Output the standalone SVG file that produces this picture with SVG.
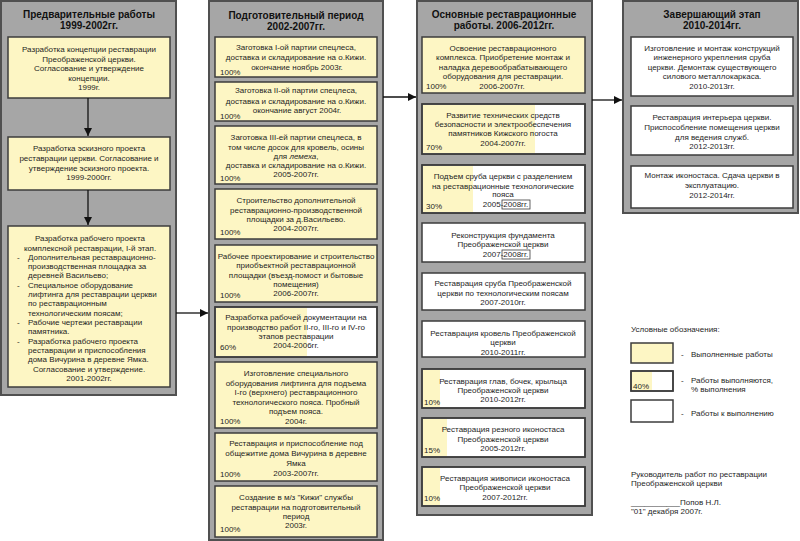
<svg xmlns="http://www.w3.org/2000/svg" width="800" height="541" viewBox="0 0 800 541">
<defs>
<style>
.panel{fill:#a6a6a6;stroke:#505050;stroke-width:2}
.done{fill:#fdf6c4;stroke:#3c3c3c;stroke-width:1.5}
.todo{fill:#ffffff;stroke:#3c3c3c;stroke-width:1.5}
.fill{fill:#fdf6c4;stroke:none}
.frame{fill:none;stroke:#3c3c3c;stroke-width:1.5}
.small{fill:none;stroke:#3c3c3c;stroke-width:0.8}
text{font-family:"Liberation Sans",Arial,sans-serif;font-size:8px;fill:#1e1e1e;text-anchor:middle}
.l{text-anchor:start}
.h{font-weight:bold;font-size:10px;fill:#111}
.conn{stroke:#111;stroke-width:1.3;fill:none;marker-end:url(#arr)}
</style>
<marker id="arr" viewBox="0 0 10 10" refX="10" refY="5" markerWidth="9" markerHeight="8" markerUnits="userSpaceOnUse" orient="auto">
<path d="M0,0 L10,5 L0,10 z" fill="#111"/>
</marker>
</defs>

<!-- Panels -->
<g id="panel1">
<rect class="panel" x="1" y="1" width="175" height="394"/>
<text class="h" x="89" y="18">Предварительные работы</text>
<text class="h" x="89" y="29">1999-2002гг.</text>
</g>
<g id="panel2">
<rect class="panel" x="209" y="1" width="174" height="539"/>
<text class="h" x="296" y="19">Подготовительный период</text>
<text class="h" x="296" y="30">2002-2007гг.</text>
</g>
<g id="panel3">
<rect class="panel" x="417" y="1" width="175" height="514"/>
<text class="h" x="504" y="18">Основные реставрационные</text>
<text class="h" x="504" y="29">работы. 2006-2012гг.</text>
</g>
<g id="panel4">
<rect class="panel" x="623" y="1" width="175" height="212"/>
<text class="h" x="712" y="18">Завершающий этап</text>
<text class="h" x="712" y="29">2010-2014гг.</text>
</g>

<!-- Column 1 -->
<g id="c1b1">
<rect class="done" x="8" y="37" width="162" height="61"/>
<text x="89" y="52">Разработка концепции реставрации</text>
<text x="89" y="61.5">Преображенской церкви.</text>
<text x="89" y="71">Согласование и утверждение</text>
<text x="89" y="80.5">концепции.</text>
<text x="89" y="90">1999г.</text>
</g>
<g id="c1b2">
<rect class="done" x="8" y="137" width="162" height="53"/>
<text x="89" y="151">Разработка эскизного проекта</text>
<text x="89" y="161">реставрации церкви. Согласование и</text>
<text x="89" y="171">утверждение  эскизного проекта.</text>
<text x="89" y="180">1999-2000гг.</text>
</g>
<g id="c1b3">
<rect class="done" x="8" y="226" width="162" height="161"/>
<text x="90" y="241">Разработка рабочего проекта</text>
<text x="90" y="251">комплексной реставрации, I-й этап.</text>
<text class="l" x="17" y="260">-</text><text class="l" x="28" y="260">Дополнительная реставрационно-</text>
<text class="l" x="28" y="269">производственная площадка за</text>
<text class="l" x="28" y="278">деревней Васильево;</text>
<text class="l" x="17" y="288">-</text><text class="l" x="28" y="288">Специальное оборудование</text>
<text class="l" x="28" y="297">лифтинга для реставрации церкви</text>
<text class="l" x="28" y="306">по реставрационным</text>
<text class="l" x="28" y="316">технологическим поясам;</text>
<text class="l" x="17" y="325">-</text><text class="l" x="28" y="325">Рабочие чертежи реставрации</text>
<text class="l" x="28" y="334">памятника.</text>
<text class="l" x="17" y="344">-</text><text class="l" x="28" y="344">Разработка рабочего проекта</text>
<text class="l" x="28" y="353">реставрации и приспособления</text>
<text class="l" x="28" y="362">дома Вичурина в деревне Ямка.</text>
<text x="89" y="372">Согласование и утверждение.</text>
<text x="89" y="381">2001-2002гг.</text>
</g>

<!-- Column 2 -->
<g id="c2b1">
<rect class="done" x="215" y="37" width="162" height="40"/>
<text x="296" y="50">Заготовка I-ой партии спецлеса,</text>
<text x="296" y="60">доставка и складирование на о.Кижи.</text>
<text x="297" y="70">окончание ноябрь 2003г.</text>
<text class="l" x="220" y="75">100%</text>
</g>
<g id="c2b2">
<rect class="done" x="215" y="82" width="162" height="39"/>
<text x="296" y="93">Заготовка II-ой партии спецлеса,</text>
<text x="296" y="104">доставка и складирование на о.Кижи.</text>
<text x="297" y="113">окончание август 2004г.</text>
<text class="l" x="220" y="119">100%</text>
</g>
<g id="c2b3">
<rect class="done" x="215" y="126" width="162" height="58"/>
<text x="296" y="140">Заготовка III-ей партии спецлеса, в</text>
<text x="296" y="150">том числе досок для кровель, осины</text>
<text x="296" y="159">для <tspan font-style="italic">лемеха</tspan>,</text>
<text x="296" y="168">доставка и складирование на о.Кижи.</text>
<text x="296" y="177">2005-2007гг.</text>
<text class="l" x="220" y="181">100%</text>
</g>
<g id="c2b4">
<rect class="done" x="215" y="189" width="162" height="50"/>
<text x="296" y="203">Строительство дополнительной</text>
<text x="296" y="213">реставрационно-производственной</text>
<text x="296" y="222">площадки за д.Васильево.</text>
<text x="296" y="231">2004-2007гг.</text>
<text class="l" x="220" y="235">100%</text>
</g>
<g id="c2b5">
<rect class="done" x="215" y="245" width="162" height="57"/>
<text x="296" y="259">Рабочее проектирование и строительство</text>
<text x="296" y="268">приобъектной реставрационной</text>
<text x="296" y="278">площадки (въезд-помост и бытовые</text>
<text x="296" y="287">помещения)</text>
<text x="296" y="296">2006-2007гг.</text>
<text class="l" x="220" y="298">100%</text>
</g>
<g id="c2b6">
<rect class="todo" x="215" y="307" width="162" height="50"/>
<rect class="fill" x="216" y="308" width="91" height="48"/>
<rect class="frame" x="215" y="307" width="162" height="50"/>
<text x="296" y="320">Разработка рабочей документации на</text>
<text x="296" y="330">производство работ II-го, III-го и IV-го</text>
<text x="296" y="339">этапов реставрации</text>
<text x="296" y="348">2004-2006гг.</text>
<text class="l" x="220" y="350">60%</text>
</g>
<g id="c2b7">
<rect class="done" x="215" y="362" width="162" height="66"/>
<text x="296" y="376">Изготовление специального</text>
<text x="296" y="386">оборудования лифтинга для подъема</text>
<text x="296" y="395">I-го (верхнего) реставрационного</text>
<text x="296" y="405">технологического пояса. Пробный</text>
<text x="296" y="414">подъем пояса.</text>
<text x="296" y="424">2004г.</text>
<text class="l" x="220" y="424">100%</text>
</g>
<g id="c2b8">
<rect class="done" x="215" y="433" width="162" height="48"/>
<text x="296" y="446">Реставрация и приспособление под</text>
<text x="296" y="456">общежитие дома Вичурина в деревне</text>
<text x="296" y="466">Ямка</text>
<text x="296" y="476">2003-2007гг.</text>
<text class="l" x="220" y="477">100%</text>
</g>
<g id="c2b9">
<rect class="done" x="215" y="486" width="162" height="51"/>
<text x="296" y="500">Создание в м/з "Кижи" службы</text>
<text x="296" y="510">реставрации на подготовительный</text>
<text x="296" y="519">период</text>
<text x="296" y="528">2003г.</text>
<text class="l" x="220" y="532">100%</text>
</g>

<!-- Column 3 -->
<g id="c3b1">
<rect class="done" x="422" y="37" width="163" height="56"/>
<text x="503" y="51">Освоение реставрационного</text>
<text x="503" y="60">комплекса. Приобретение монтаж и</text>
<text x="503" y="70">наладка деревообрабатывающего</text>
<text x="503" y="79">оборудования для реставрации.</text>
<text x="502" y="89">2006-2007гг.</text>
<text class="l" x="426" y="89">100%</text>
</g>
<g id="c3b2">
<rect class="todo" x="422" y="104" width="163" height="50"/>
<rect class="fill" x="423" y="105" width="112" height="48"/>
<rect class="frame" x="422" y="104" width="163" height="50"/>
<text x="503" y="118">Развитие технических средств</text>
<text x="503" y="127">безопасности и электрообеспечения</text>
<text x="503" y="136">памятников Кижского погоста</text>
<text x="503" y="146">2004-2007гг.</text>
<text class="l" x="426" y="150">70%</text>
</g>
<g id="c3b3">
<rect class="todo" x="422" y="165" width="163" height="48"/>
<rect class="fill" x="423" y="166" width="50" height="46"/>
<rect class="frame" x="422" y="165" width="163" height="48"/>
<text x="503" y="179">Подъем сруба церкви с разделением</text>
<text x="503" y="189">на реставрационные технологические</text>
<text x="503" y="197">пояса</text>
<text x="505.5" y="207">2005-2008гг.</text>
<rect class="small" x="502" y="200" width="28" height="9"/>
<text class="l" x="426" y="209">30%</text>
</g>
<g id="c3b4">
<rect class="todo" x="422" y="223" width="163" height="39"/>
<text x="503" y="238">Реконструкция фундамента</text>
<text x="503" y="247">Преображенской церкви</text>
<text x="505.5" y="257">2007-2008гг.</text>
<rect class="small" x="502" y="250" width="28" height="9"/>
</g>
<g id="c3b5">
<rect class="todo" x="422" y="273" width="163" height="37"/>
<text x="503" y="286">Реставрация сруба Преображенской</text>
<text x="503" y="296">церкви по технологическим поясам</text>
<text x="503" y="305">2007-2010гг.</text>
</g>
<g id="c3b6">
<rect class="todo" x="422" y="321" width="163" height="36"/>
<text x="503" y="336">Реставрация кровель Преображенской</text>
<text x="503" y="345">церкви</text>
<text x="503" y="355">2010-2011гг.</text>
</g>
<g id="c3b7">
<rect class="todo" x="422" y="369" width="163" height="39"/>
<rect class="fill" x="423" y="370" width="17" height="37"/>
<rect class="frame" x="422" y="369" width="163" height="39"/>
<text x="503" y="384">Реставрация глав, бочек, крыльца</text>
<text x="503" y="393">Преображенской церкви</text>
<text x="503" y="402">2010-2012гг.</text>
<text class="l" x="424" y="405">10%</text>
</g>
<g id="c3b8">
<rect class="todo" x="422" y="418" width="163" height="39"/>
<rect class="fill" x="423" y="419" width="24" height="37"/>
<rect class="frame" x="422" y="418" width="163" height="39"/>
<text x="503" y="432">Реставрация резного иконостаса</text>
<text x="503" y="442">Преображенской церкви</text>
<text x="503" y="451">2005-2012гг.</text>
<text class="l" x="424" y="453">15%</text>
</g>
<g id="c3b9">
<rect class="todo" x="422" y="467" width="163" height="39"/>
<rect class="fill" x="423" y="468" width="17" height="37"/>
<rect class="frame" x="422" y="467" width="163" height="39"/>
<text x="505" y="481">Реставрация живописи иконостаса</text>
<text x="505" y="490">Преображенской церкви</text>
<text x="505" y="500">2007-2012гг.</text>
<text class="l" x="424" y="501">10%</text>
</g>

<!-- Column 4 -->
<g id="c4b1">
<rect class="todo" x="631" y="37" width="162" height="59"/>
<text x="712" y="51">Изготовление и монтаж конструкций</text>
<text x="712" y="60">инженерного укрепления сруба</text>
<text x="712" y="70">церкви. Демонтаж существующего</text>
<text x="712" y="79">силового металлокаркаса.</text>
<text x="712" y="89">2010-2013гг.</text>
</g>
<g id="c4b2">
<rect class="todo" x="631" y="106" width="162" height="49"/>
<text x="712" y="120">Реставрация интерьера церкви.</text>
<text x="712" y="130">Приспособление помещения церкви</text>
<text x="712" y="140">для ведения служб.</text>
<text x="712" y="149">2012-2013гг.</text>
</g>
<g id="c4b3">
<rect class="todo" x="631" y="166" width="162" height="42"/>
<text x="712" y="178">Монтаж иконостаса. Сдача церкви в</text>
<text x="712" y="188">эксплуатацию.</text>
<text x="712" y="198">2012-2014гг.</text>
</g>

<!-- Legend -->
<g id="legend">
<text class="l" x="631" y="332">Условные обозначения:</text>
<rect class="done" x="631" y="343" width="42" height="20"/>
<text class="l" x="681" y="357">-</text>
<text class="l" x="691" y="357">Выполненные работы</text>
<rect class="todo" x="631" y="371" width="42" height="20"/>
<rect class="fill" x="632" y="372" width="20" height="18"/>
<rect class="frame" x="631" y="371" width="42" height="20"/>
<text class="l" x="633" y="389">40%</text>
<text class="l" x="681" y="383">-</text>
<text class="l" x="691" y="383">Работы выполняются,</text>
<text class="l" x="691" y="392">% выполнения</text>
<rect class="todo" x="631" y="400" width="42" height="22"/>
<text class="l" x="681" y="416">-</text>
<text class="l" x="691" y="416">Работы к выполнению</text>
</g>
<g id="signature">
<text class="l" x="631" y="477">Руководитель работ по реставрации</text>
<text class="l" x="631" y="486">Преображенской церкви</text>
<text class="l" x="631" y="505">___________Попов Н.Л.</text>
<text class="l" x="631" y="514">"01" декабря 2007г.</text>
</g>

<!-- Connectors -->
<g id="connectors">
<line class="conn" x1="88" y1="98" x2="88" y2="136"/>
<line class="conn" x1="88" y1="190" x2="88" y2="225"/>
<line class="conn" x1="176" y1="313" x2="208" y2="313"/>
<line class="conn" x1="383" y1="97" x2="416" y2="97"/>
<line class="conn" x1="592" y1="100" x2="622" y2="100"/>
</g>
</svg>
